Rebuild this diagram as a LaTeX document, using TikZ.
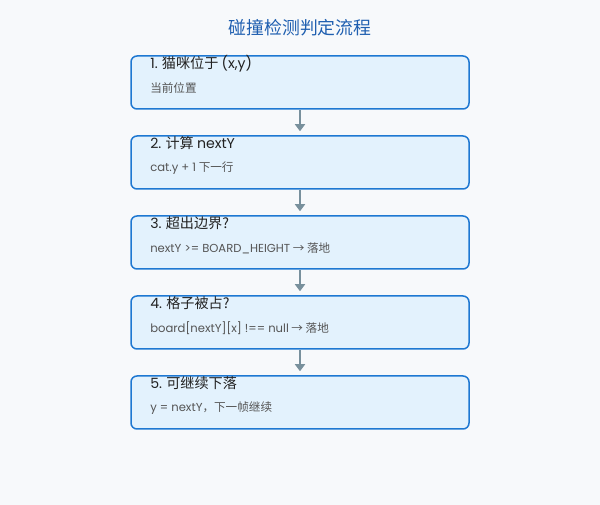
\documentclass[tikz,border=0pt]{standalone}
\usepackage{fontspec}
\setmainfont{Noto Sans CJK SC}
\newfontfamily\lat{Poppins}
\usetikzlibrary{arrows.meta}
\definecolor{bgc}{HTML}{F7F9FB}
\definecolor{titlec}{HTML}{1F5FB0}
\definecolor{boxfill}{HTML}{E3F2FD}
\definecolor{boxline}{HTML}{1E78D2}
\definecolor{arrowc}{HTML}{78909C}
\definecolor{subc}{HTML}{555555}
\definecolor{headc}{HTML}{222222}
\begin{document}
\begin{tikzpicture}[x=0.75pt,y=-0.75pt,
  stepbox/.style={draw=boxline,fill=boxfill,line width=1.5pt*0.75,rounded corners=6pt*0.75,
    minimum width=338*0.75pt,minimum height=53*0.75pt,inner sep=0pt},
  headtxt/.style={anchor=west,inner sep=0pt,font=\fontsize{10.6pt}{12pt}\selectfont,text=headc},
  subtxt/.style={anchor=west,inner sep=0pt,font=\fontsize{8.7pt}{10pt}\selectfont,text=subc},
  flow/.style={draw=arrowc,line width=2pt*0.75,-{Triangle[length=7pt*0.75,width=10pt*0.75]},shorten >=4pt*0.75}]
\fill[bgc] (0,0) rectangle (600,505);
\useasboundingbox (0,0) rectangle (600,505);
\node[text=titlec,font=\fontsize{13.4pt}{15pt}\selectfont,inner sep=0pt] (title) at (300,28) {碰撞检测判定流程};
\node[stepbox] (b1) at (300,82.5) {};
\node[stepbox] (b2) at (300,162.5) {};
\node[stepbox] (b3) at (300,242.5) {};
\node[stepbox] (b4) at (300,322.5) {};
\node[stepbox] (b5) at (300,402.5) {};
\node[headtxt] (h1) at (150,63.5) {{\lat 1.} 猫咪位于 {\lat (x,y)}};
\node[subtxt] (s1) at (150,88) {当前位置};
\node[headtxt] (h2) at (150,143.5) {{\lat 2.} 计算 {\lat nextY}};
\node[subtxt] (s2) at (150,168) {{\lat cat.y + 1} 下一行};
\node[headtxt] (h3) at (150,223.5) {{\lat 3.} 超出边界?};
\node[subtxt] (s3) at (150,248) {{\lat nextY >= BOARD\_HEIGHT} → 落地};
\node[headtxt] (h4) at (150,303.5) {{\lat 4.} 格子被占?};
\node[subtxt] (s4) at (150,328) {{\lat board[nextY][x] !== null} → 落地};
\node[headtxt] (h5) at (150,383.5) {{\lat 5.} 可继续下落};
\node[subtxt] (s5) at (150,408) {{\lat y = nextY}，下一帧继续};
\draw[flow] (b1.south) -- (b2.north);
\draw[flow] (b2.south) -- (b3.north);
\draw[flow] (b3.south) -- (b4.north);
\draw[flow] (b4.south) -- (b5.north);
\end{tikzpicture}
\end{document}
